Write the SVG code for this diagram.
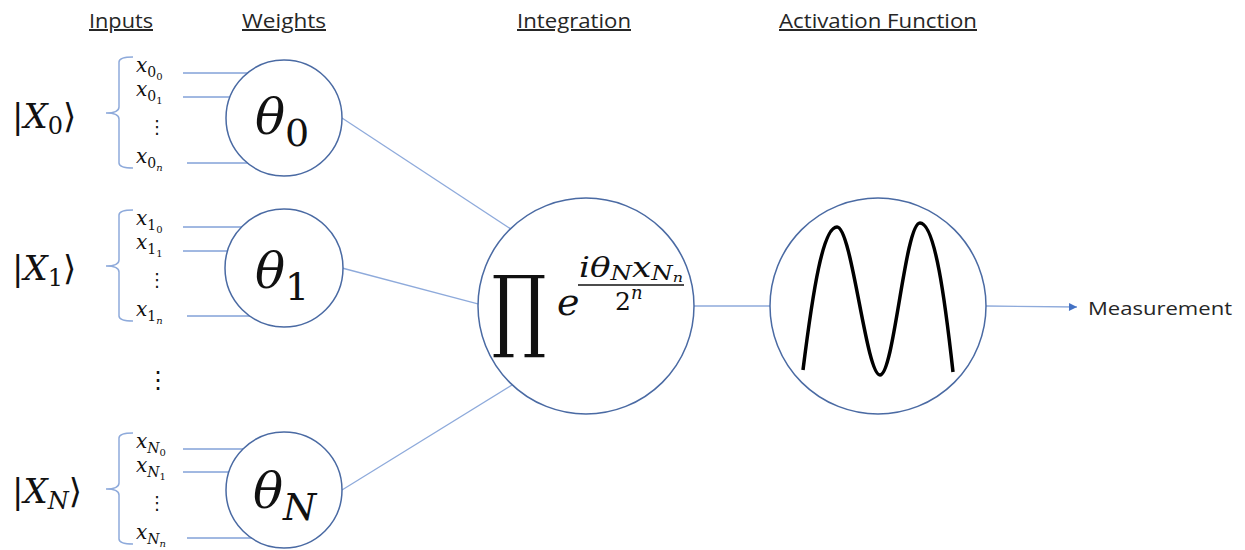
<svg xmlns="http://www.w3.org/2000/svg" width="1245" height="550" viewBox="0 0 1245 550">
<style>
.hdr{font-family:"Open Sans","Liberation Sans",Arial,sans-serif;font-size:20px;fill:#262626;text-decoration:underline;}
.m{font-family:"DejaVu Serif","Liberation Serif",serif;fill:#111;}
.it{font-style:italic;}
.dots{font-family:"DejaVu Sans",sans-serif;fill:#111;}
.node{fill:#fff;stroke:#4a6aa3;stroke-width:1.5;}
.in{stroke:#4472c4;stroke-width:1;fill:none;}
.brace{stroke:#8eaadb;stroke-width:1.5;fill:none;}
.conn{stroke:#8eaadb;stroke-width:1.3;fill:none;}
.wave{stroke:#000;stroke-width:3.5;fill:none;stroke-linecap:butt;}
.lbl{font-family:"Open Sans","Liberation Sans",Arial,sans-serif;font-size:19px;fill:#262626;}
</style>
<defs>
<marker id="arr" markerWidth="10" markerHeight="10" refX="9" refY="5" orient="auto" markerUnits="userSpaceOnUse">
<path d="M1,1 L9,5 L1,9 Z" fill="#4472c4"/>
</marker>
</defs>

<g id="headers">
<text class="hdr" x="89" y="28" textLength="64" lengthAdjust="spacingAndGlyphs">Inputs</text>
<text class="hdr" x="242" y="28" textLength="84" lengthAdjust="spacingAndGlyphs">Weights</text>
<text class="hdr" x="517" y="28" textLength="114" lengthAdjust="spacingAndGlyphs">Integration</text>
<text class="hdr" x="779" y="28" textLength="198" lengthAdjust="spacingAndGlyphs">Activation Function</text>
</g>

<g id="connectors">
<g class="in">
<line x1="183" y1="73" x2="260" y2="73"/><line x1="183" y1="97" x2="260" y2="97"/><line x1="187" y1="163" x2="260" y2="163"/>
<line x1="183" y1="227" x2="260" y2="227"/><line x1="183" y1="251" x2="260" y2="251"/><line x1="187" y1="316" x2="260" y2="316"/>
<line x1="183" y1="449" x2="260" y2="449"/><line x1="183" y1="472" x2="260" y2="472"/><line x1="187" y1="538" x2="260" y2="538"/>
</g>
<line class="conn" x1="342" y1="118" x2="520" y2="235"/>
<line class="conn" x1="342" y1="268" x2="520" y2="315"/>
<line class="conn" x1="342" y1="490" x2="520" y2="380"/>
<line class="conn" x1="690" y1="306" x2="775" y2="306"/>
<line class="conn" x1="986" y1="306" x2="1077" y2="307" stroke="#4472c4" marker-end="url(#arr)"/>
</g>

<g id="input-X0">
<path class="brace" d="M133,57 Q119,57 119,62 L119,107 Q119,113 106,113 Q119,113 119,119 L119,163 Q119,168 133,168"/>
<text class="m" x="12" y="128" font-size="34">|<tspan class="it">X</tspan><tspan font-size="24" dy="6">0</tspan><tspan dy="-6">⟩</tspan></text>
<text class="m" x="136" y="72" font-size="20"><tspan class="it">x</tspan><tspan font-size="14" dy="5">0</tspan><tspan font-size="10" dy="3">0</tspan></text>
<text class="m" x="136" y="96" font-size="20"><tspan class="it">x</tspan><tspan font-size="14" dy="5">0</tspan><tspan font-size="10" dy="3">1</tspan></text>
<text class="dots" x="148" y="133" font-size="18">⋮</text>
<text class="m" x="136" y="163" font-size="20"><tspan class="it">x</tspan><tspan font-size="14" dy="5">0</tspan><tspan class="it" font-size="10" dy="3">n</tspan></text>
</g>

<g id="input-X1" transform="translate(0,153)">
<path class="brace" d="M133,57 Q119,57 119,62 L119,107 Q119,113 106,113 Q119,113 119,119 L119,163 Q119,168 133,168"/>
<text class="m" x="12" y="127" font-size="34">|<tspan class="it">X</tspan><tspan font-size="24" dy="6">1</tspan><tspan dy="-6">⟩</tspan></text>
<text class="m" x="136" y="72" font-size="20"><tspan class="it">x</tspan><tspan font-size="14" dy="5">1</tspan><tspan font-size="10" dy="3">0</tspan></text>
<text class="m" x="136" y="96" font-size="20"><tspan class="it">x</tspan><tspan font-size="14" dy="5">1</tspan><tspan font-size="10" dy="3">1</tspan></text>
<text class="dots" x="148" y="133" font-size="18">⋮</text>
<text class="m" x="136" y="163" font-size="20"><tspan class="it">x</tspan><tspan font-size="14" dy="5">1</tspan><tspan class="it" font-size="10" dy="3">n</tspan></text>
</g>

<text id="group-dots" class="dots" x="146" y="388" font-size="24">⋮</text>

<g id="input-XN" transform="translate(0,376)">
<path class="brace" d="M133,57 Q119,57 119,62 L119,107 Q119,113 106,113 Q119,113 119,119 L119,163 Q119,168 133,168"/>
<text class="m" x="12" y="127" font-size="34">|<tspan class="it">X</tspan><tspan class="it" font-size="24" dy="6">N</tspan><tspan dy="-6">⟩</tspan></text>
<text class="m" x="136" y="72" font-size="20"><tspan class="it">x</tspan><tspan class="it" font-size="14" dy="5">N</tspan><tspan font-size="10" dy="3">0</tspan></text>
<text class="m" x="136" y="96" font-size="20"><tspan class="it">x</tspan><tspan class="it" font-size="14" dy="5">N</tspan><tspan font-size="10" dy="3">1</tspan></text>
<text class="dots" x="148" y="133" font-size="18">⋮</text>
<text class="m" x="136" y="163" font-size="20"><tspan class="it">x</tspan><tspan class="it" font-size="14" dy="5">N</tspan><tspan class="it" font-size="10" dy="3">n</tspan></text>
</g>

<g id="weight-0">
<circle class="node" cx="284" cy="118" r="58"/>
<text class="m" x="255" y="134" font-size="50"><tspan class="it">θ</tspan><tspan font-size="38" dy="12">0</tspan></text>
</g>
<g id="weight-1">
<circle class="node" cx="284" cy="268" r="59"/>
<text class="m" x="255" y="288" font-size="50"><tspan class="it">θ</tspan><tspan font-size="38" dy="12">1</tspan></text>
</g>
<g id="weight-N">
<circle class="node" cx="284" cy="490" r="58"/>
<text class="m" x="253" y="508" font-size="50"><tspan class="it">θ</tspan><tspan class="it" font-size="38" dy="12">N</tspan></text>
</g>

<g id="integration">
<circle class="node" cx="586" cy="306" r="108"/>
<text class="m" transform="translate(492,340) scale(0.76,1)" x="0" y="0" font-size="90">∏</text>
<text class="m it" x="557" y="315" font-size="38">e</text>
<text class="m" x="579" y="277" font-size="28" textLength="104" lengthAdjust="spacingAndGlyphs"><tspan class="it">i</tspan><tspan class="it">θ</tspan><tspan class="it" font-size="20" dy="3">N</tspan><tspan class="it" dy="-3">x</tspan><tspan class="it" font-size="20" dy="3">N</tspan><tspan class="it" font-size="13" dy="2">n</tspan></text>
<line x1="578" y1="285" x2="684" y2="285" stroke="#111" stroke-width="1.6"/>
<text class="m" x="615" y="310" font-size="25">2<tspan class="it" font-size="18" dy="-11">n</tspan></text>
</g>

<g id="activation">
<circle class="node" cx="878" cy="306" r="108"/>
<path class="wave" d="M803,370 C813,290 823,227 837,227 C852,227 866,375 880,375 C894,375 905,223 920,223 C935,223 945,300 953,372"/>
</g>

<g id="output">
<text class="lbl" x="1088" y="315" textLength="144" lengthAdjust="spacingAndGlyphs">Measurement</text>
</g>
</svg>
